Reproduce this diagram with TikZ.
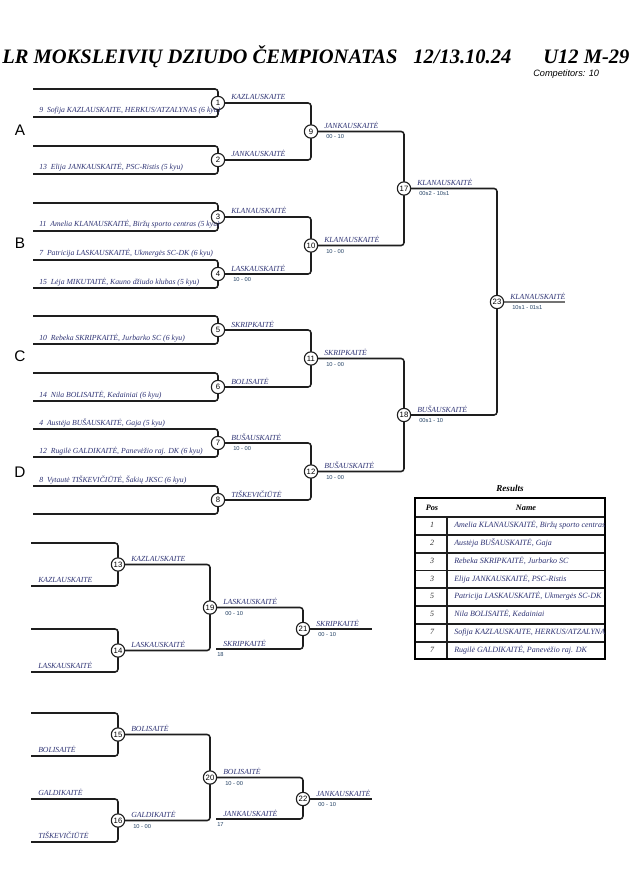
\documentclass[tikz,border=0pt]{standalone}
\usepackage{fontspec}
\setmainfont{Liberation Serif}
\setsansfont{Liberation Sans}
\usetikzlibrary{calc,backgrounds}
\definecolor{linec}{RGB}{30,30,30}
\definecolor{namec}{RGB}{45,50,115}
\definecolor{scorec}{RGB}{35,65,100}
\begin{document}
\begin{tikzpicture}[x=0.75pt,y=-0.75pt,
  br/.style={draw=linec, line width=1.15pt, rounded corners=2.2pt},
  fin/.style={draw=black!55, line width=1.6pt},
  mc/.style={circle, draw=linec, line width=0.85pt, fill=white, minimum size=10pt, inner sep=0pt, font=\sffamily\fontsize{5.8}{5.8}\selectfont},
  nm/.style={anchor=base west, inner sep=0pt, text=namec, font=\itshape\fontsize{5.8}{6}\selectfont},
  sc/.style={anchor=base west, inner sep=0pt, text=scorec, font=\sffamily\fontsize{4.3}{4.5}\selectfont},
  ttl/.style={anchor=base west, inner sep=0pt, font=\bfseries\itshape\fontsize{15.4}{16}\selectfont},
  sect/.style={inner sep=0pt, font=\sffamily\fontsize{11.5}{12}\selectfont},
  rowtxt/.style={anchor=base west, inner sep=0pt, text=namec, font=\itshape\fontsize{6}{6.5}\selectfont},
  rowpos/.style={anchor=base, inner sep=0pt, text=black!80, font=\itshape\fontsize{6}{6.5}\selectfont},
  hdr/.style={anchor=base, inner sep=0pt, font=\bfseries\itshape\fontsize{6.2}{6.5}\selectfont}
]
\useasboundingbox (0,0) rectangle (630,891);
\clip (0,0) rectangle (630,891);

% title
\node[ttl] (t1) at (2,64) {LR MOKSLEIVIŲ DZIUDO ČEMPIONATAS};
\node[ttl] (t2) at (413,64) {12/13.10.24};
\node[ttl] (t3) at (543,64) {U12 M-29};
\node[anchor=base west, inner sep=0pt, font=\sffamily\itshape\fontsize{6.9}{7}\selectfont] (comp) at (533,77) {Competitors: 10};

% section letters
\node[sect] (la) at (20,130) {A};
\node[sect] (lb) at (20,243) {B};
\node[sect] (lc) at (20,356) {C};
\node[sect] (ld) at (20,472) {D};

% first round
\foreach \i/\t in {1/89,2/146,3/203,4/260,5/316,6/373,7/429,8/486}{
  \coordinate (t\i) at (33,\t);
  \coordinate (b\i) at (33,\t+28);
  \node[mc] (m\i) at (218,\t+14) {\i};
}
\node[mc] (m9) at (311,131.5) {9};
\node[mc] (m10) at (311,245.5) {10};
\node[mc] (m11) at (311,358.5) {11};
\node[mc] (m12) at (311,471.5) {12};
\node[mc] (m17) at (404,188.5) {17};
\node[mc] (m18) at (404,415) {18};
\node[mc] (m23) at (497,302) {23};
\coordinate (o23) at (565,302);

% repechage
\foreach \i/\t in {13/543,14/629,15/713,16/799}{
  \coordinate (t\i) at (31,\t);
  \coordinate (b\i) at (31,\t+43);
  \node[mc] (m\i) at (118,\t+21.5) {\i};
}
\node[mc] (m19) at (210,607.5) {19};
\node[mc] (m20) at (210,777.5) {20};
\node[mc] (m21) at (303,629) {21};
\node[mc] (m22) at (303,799) {22};
\coordinate (r18) at (216,649);
\coordinate (r17) at (216,819);
\coordinate (o21) at (372,629);
\coordinate (o22) at (372,799);

\begin{pgfonlayer}{background}
  \foreach \i in {1,...,8,13,14,15,16}{
    \draw[br] (t\i) -| (m\i.center);
    \draw[br] (b\i) -| (m\i.center);
  }
  \foreach \a/\b in {1/9,2/9,3/10,4/10,5/11,6/11,7/12,8/12,9/17,10/17,11/18,12/18,17/23,18/23,13/19,14/19,15/20,16/20,19/21,20/22}{
    \draw[br] (m\a.center) -| (m\b.center);
  }
  \draw[br] (r18) -| (m21.center);
  \draw[br] (r17) -| (m22.center);
  \draw[br] (m21.center) -- (o21);
  \draw[br] (m22.center) -- (o22);
  \draw[fin] (m23.center) -- (o23);
\end{pgfonlayer}

% entry names
\node[nm] (n1) at (39,113) {9~~Sofija KAZLAUSKAITE, HERKUS/ATZALYNAS (6 kyu)};
\node[nm] (n2) at (39,170) {13~~Elija JANKAUSKAITĖ, PSC-Ristis (5 kyu)};
\node[nm] (n3) at (39,227) {11~~Amelia KLANAUSKAITĖ, Biržų sporto centras (5 kyu)};
\node[nm] (n4a) at (39,255.5) {7~~Patricija LASKAUSKAITĖ, Ukmergės SC-DK (6 kyu)};
\node[nm] (n4b) at (39,284) {15~~Lėja MIKUTAITĖ, Kauno džiudo klubas (5 kyu)};
\node[nm] (n5) at (39,340) {10~~Rebeka SKRIPKAITĖ, Jurbarko SC (6 kyu)};
\node[nm] (n6) at (39,397) {14~~Nila BOLISAITĖ, Kedainiai (6 kyu)};
\node[nm] (n7a) at (39,425) {4~~Austėja BUŠAUSKAITĖ, Gaja (5 kyu)};
\node[nm] (n7b) at (39,453) {12~~Rugilė GALDIKAITĖ, Panevėžio raj. DK (6 kyu)};
\node[nm] (n8) at (39,482) {8~~Vytautė TIŠKEVIČIŪTĖ, Šakių JKSC (6 kyu)};

% winner labels
\foreach \i/\n in {1/KAZLAUSKAITE,2/JANKAUSKAITĖ,3/KLANAUSKAITĖ,4/LASKAUSKAITĖ,5/SKRIPKAITĖ,6/BOLISAITĖ,7/BUŠAUSKAITĖ,8/TIŠKEVIČIŪTĖ,9/JANKAUSKAITĖ,10/KLANAUSKAITĖ,11/SKRIPKAITĖ,12/BUŠAUSKAITĖ,17/KLANAUSKAITĖ,18/BUŠAUSKAITĖ,23/KLANAUSKAITĖ,13/KAZLAUSKAITE,14/LASKAUSKAITĖ,15/BOLISAITĖ,16/GALDIKAITĖ,19/LASKAUSKAITĖ,20/BOLISAITĖ,21/SKRIPKAITĖ,22/JANKAUSKAITĖ}{
  \node[nm] (w\i) at ($(m\i.center)+(13,-3)$) {\n};
}
% scores
\foreach \i/\s in {4/10 - 00,7/10 - 00,9/00 - 10,10/10 - 00,11/10 - 00,12/10 - 00,17/00s2 - 10s1,18/00s1 - 10,23/10s1 - 01s1,16/10 - 00,19/00 - 10,20/10 - 00,21/00 - 10,22/00 - 10}{
  \node[sc] (s\i) at ($(m\i.center)+(15,7.5)$) {\s};
}

% repechage entry labels
\node[nm] (q13) at (38,582) {KAZLAUSKAITE};
\node[nm] (q14) at (38,668) {LASKAUSKAITĖ};
\node[nm] (q15) at (38,752) {BOLISAITĖ};
\node[nm] (q16a) at (38,795) {GALDIKAITĖ};
\node[nm] (q16b) at (38,838) {TIŠKEVIČIŪTĖ};
\node[nm] (f18) at (223,646) {SKRIPKAITĖ};
\node[sc] (f18n) at (217,656) {18};
\node[nm] (f17) at (223,816) {JANKAUSKAITĖ};
\node[sc] (f17n) at (217,826) {17};

% results table
\node[anchor=base, inner sep=0pt, font=\bfseries\itshape\fontsize{6.8}{7}\selectfont] (rt) at (510,491) {Results};
\node[hdr] (hp) at (432,510) {Pos};
\node[hdr] (hn) at (526,510) {Name};
\foreach \y in {517,535,553,570.5,588,606,624,642}{
  \draw[line width=0.9pt, draw=linec] (415,\y) -- (605,\y);
}
\draw[line width=0.9pt, draw=linec] (447,517) -- (447,659);
\draw[line width=1.6pt] (415,498) rectangle (605,659);
\begin{scope}
\clip (448,517) rectangle (604,659);
\foreach \k/\p/\n in {1/1/{Amelia KLANAUSKAITĖ, Biržų sporto centras},2/2/{Austėja BUŠAUSKAITĖ, Gaja},3/3/{Rebeka SKRIPKAITĖ, Jurbarko SC},4/3/{Elija JANKAUSKAITĖ, PSC-Ristis},5/5/{Patricija LASKAUSKAITĖ, Ukmergės SC-DK},6/5/{Nila BOLISAITĖ, Kedainiai},7/7/{Sofija KAZLAUSKAITE, HERKUS/ATZALYNAS},8/7/{Rugilė GALDIKAITĖ, Panevėžio raj. DK}}{
  \node[rowtxt] (rn\k) at (454,{517+(\k-0.5)*17.75+2}) {\n};
}
\end{scope}
\foreach \k/\p in {1/1,2/2,3/3,4/3,5/5,6/5,7/7,8/7}{
  \node[rowpos] (rp\k) at (432,{517+(\k-0.5)*17.75+2}) {\p};
}
\end{tikzpicture}
\end{document}
